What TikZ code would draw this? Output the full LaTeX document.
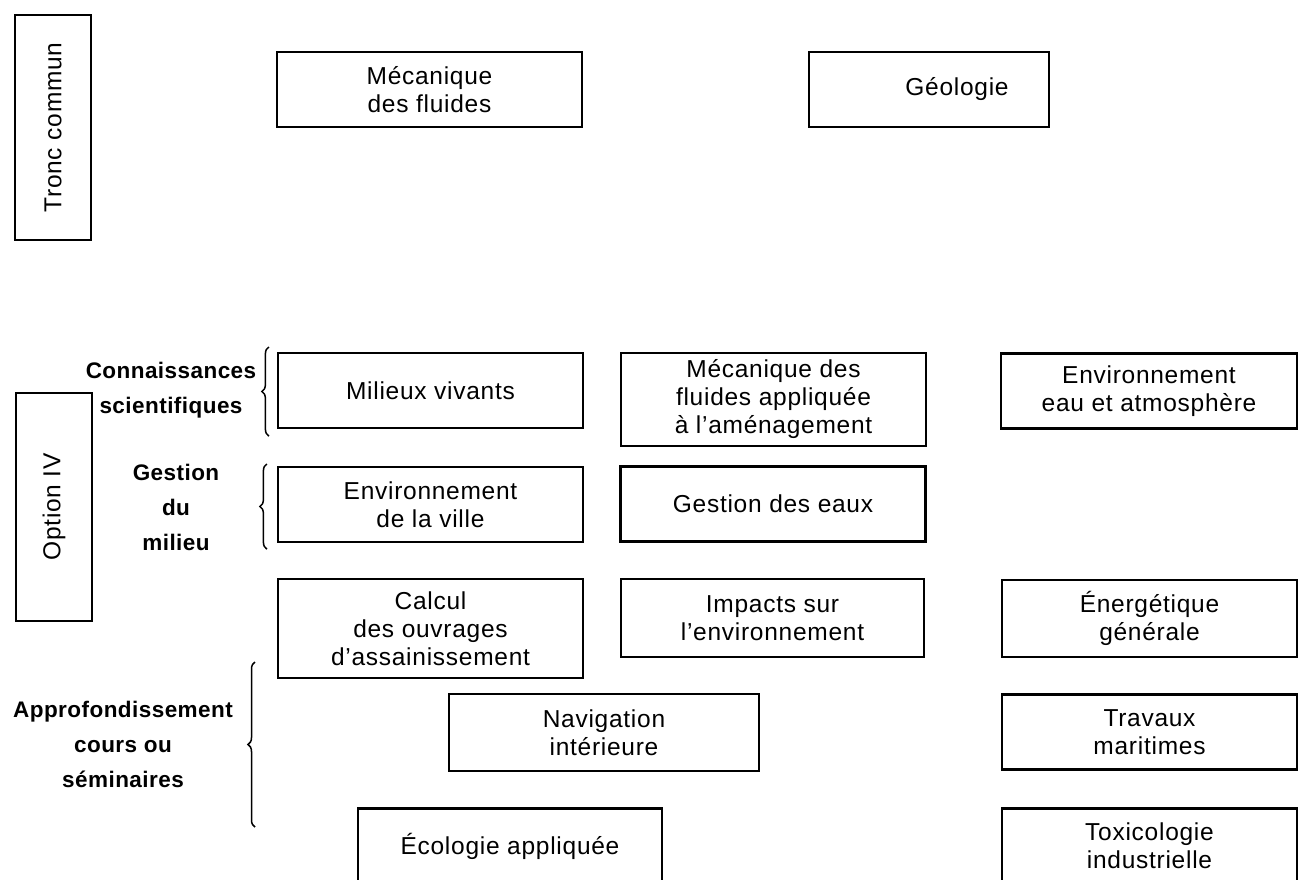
\documentclass[tikz,border=0pt]{standalone}
\usepackage{fontspec}
\setmainfont{Liberation Sans}[LetterSpace=3]
\newfontfamily\headfont{Liberation Sans}[LetterSpace=2]
\usetikzlibrary{decorations.pathreplacing}

\begin{document}
\begin{tikzpicture}[x=0.5pt, y=-0.5pt,
	box/.style={draw, line width=1.1pt, inner sep=0pt, align=center, font=\fontsize{12.25}{14}\selectfont, minimum width=152.5pt, minimum height=37.5pt},
	side/.style={box, rotate=90, minimum height=38pt},
	head/.style={align=center, font=\headfont\bfseries\fontsize{11.25}{17.5}\selectfont},
	curly/.style={decorate, decoration={brace, amplitude=3.5pt}, line width=0.75pt}]
	\useasboundingbox (0,0) rectangle (1299,879);
	\clip (0,0) rectangle (1299,879);

	\node[side, minimum width=112.5pt] (tronc) at (53,127.5) {Tronc commun};
	\node[box] (mecaFl) at (429.5,89.5) {Mécanique\\des fluides};
	\node[box, minimum width=120pt] (geol) at (929,89.5) {\hspace*{28pt}Géologie};

	\node[side, minimum width=114pt] (option) at (54,507) {Option IV};

	\node[box] (milieux) at (430.5,390.5) {Milieux vivants};
	\node[box, minimum height=46.5pt] (mecaAppl) at (773.5,399.5) {Mécanique des\\fluides appliquée\\à l’aménagement};
	\node[box, minimum width=148pt] (envEau) at (1149,391) {Environnement\\eau et atmosphère};

	\node[box] (envVille) at (430.5,504.5) {Environnement\\de la ville};
	\node[box] (gestEaux) at (773,504) {Gestion des eaux};

	\node[box, minimum height=49.5pt] (calcul) at (430.5,628.5) {Calcul\\des ouvrages\\d’assainissement};
	\node[box, minimum width=151.5pt, minimum height=39pt] (impacts) at (772.5,618) {Impacts sur\\l’environnement};
	\node[box, minimum width=147.5pt, minimum height=38.5pt] (energ) at (1149.5,618.5) {Énergétique\\générale};

	\node[box, minimum width=155pt, minimum height=38.5pt] (navig) at (604,732.5) {Navigation\\intérieure};
	\node[box, minimum width=147.5pt] (travaux) at (1149.5,732) {Travaux\\maritimes};

	\node[box, minimum width=152pt] (ecolo) at (510,846) {Écologie appliquée};
	\node[box, minimum width=147.5pt] (toxico) at (1149.5,846) {Toxicologie\\industrielle};

	\node[head] (conn) at (171,390.5) {Connaissances\\scientifiques};
	\node[head] (gest) at (176,507.5) {Gestion\\du\\milieu};
	\node[head] (approf) at (123,744) {Approfondissement\\cours ou\\séminaires};

	\coordinate (apTop) at (255,662);
	\coordinate (apBot) at (255,827);

	\draw[curly] ([xshift=-4pt, yshift=-3.5pt]milieux.south west) -- ([xshift=-4pt, yshift=2.5pt]milieux.north west);
	\draw[curly] ([xshift=-5pt, yshift=-3pt]envVille.south west) -- ([xshift=-5pt, yshift=1pt]envVille.north west);
	\draw[curly] (apBot) -- (apTop);
\end{tikzpicture}
\end{document}
